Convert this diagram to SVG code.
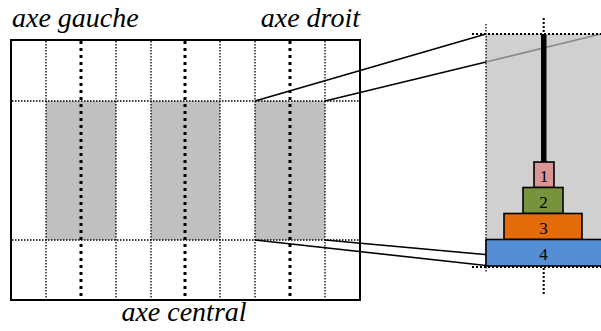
<svg xmlns="http://www.w3.org/2000/svg" width="601" height="331" viewBox="0 0 601 331">
<style>
.fine{stroke:#000;stroke-width:1.3;stroke-dasharray:1.5 1.5;fill:none}
.thick{stroke:#000;stroke-width:3;stroke-dasharray:3 4;fill:none}
.med{stroke:#000;stroke-width:2;stroke-dasharray:2 2;fill:none}
.conn{stroke:#000;stroke-width:1.6;fill:none}
.disk{stroke:#000;stroke-width:1.6}
.band{fill:#c0c0c0}
</style>
<rect width="601" height="331" fill="#fff"/>
<g id="left-panel">
<rect class="band" x="46" y="101" width="70" height="139"/>
<rect class="band" x="151" y="101" width="69" height="139"/>
<rect class="band" x="255" y="101" width="70" height="139"/>
<g class="fine">
<line x1="46" y1="41" x2="46" y2="299"/>
<line x1="116" y1="41" x2="116" y2="299"/>
<line x1="151" y1="41" x2="151" y2="299"/>
<line x1="220" y1="41" x2="220" y2="299"/>
<line x1="255" y1="41" x2="255" y2="299"/>
<line x1="325" y1="41" x2="325" y2="299"/>
<line x1="12" y1="101" x2="359" y2="101"/>
<line x1="12" y1="240" x2="359" y2="240"/>
</g>
<g class="thick">
<line x1="81" y1="41" x2="81" y2="300"/>
<line x1="185" y1="41" x2="185" y2="300"/>
<line x1="290" y1="41" x2="290" y2="300"/>
</g>
<rect x="11" y="40" width="349" height="260" fill="none" stroke="#000" stroke-width="2"/>
</g>
<g id="right-panel">
<rect x="486" y="34" width="115" height="232" fill="#d0d0d0"/>
<line x1="486" y1="62" x2="601" y2="34" stroke="#888" stroke-width="1.6"/>
<rect x="541" y="34" width="5.5" height="128" fill="#000"/>
<line class="med" x1="543.7" y1="18" x2="543.7" y2="34"/>
<line class="med" x1="543.7" y1="268" x2="543.7" y2="294"/>
<line class="med" x1="472" y1="34" x2="601" y2="34"/>
<line class="med" x1="472" y1="267" x2="601" y2="267"/>
<line class="fine" x1="486" y1="24" x2="486" y2="273"/>
</g>
<g id="connectors">
<line class="conn" x1="255" y1="101" x2="486" y2="34"/>
<line class="conn" x1="325" y1="101" x2="486" y2="62"/>
<line class="conn" x1="255" y1="240" x2="486" y2="265.5"/>
<line class="conn" x1="325" y1="240" x2="601" y2="265"/>
</g>
<g id="disk1"><rect class="disk" x="534" y="162" width="20" height="25.5" fill="#da9694"/><text x="544" y="182" font-size="17" text-anchor="middle" font-family="'Liberation Serif', Tinos, 'DejaVu Serif', serif">1</text></g>
<g id="disk2"><rect class="disk" x="523" y="187.5" width="40" height="26" fill="#77933c"/><text x="543.5" y="208" font-size="17" text-anchor="middle" font-family="'Liberation Serif', Tinos, 'DejaVu Serif', serif">2</text></g>
<g id="disk3"><rect class="disk" x="504" y="213.5" width="78" height="26" fill="#e46c0a"/><text x="543.5" y="234" font-size="17" text-anchor="middle" font-family="'Liberation Serif', Tinos, 'DejaVu Serif', serif">3</text></g>
<g id="disk4"><rect class="disk" x="486" y="239.5" width="118" height="26.5" fill="#558ed5"/><text x="543.5" y="260" font-size="17" text-anchor="middle" font-family="'Liberation Serif', Tinos, 'DejaVu Serif', serif">4</text></g>
<g id="labels">
<text x="12" y="27" font-size="28" font-style="italic" font-family="'Liberation Serif', Tinos, 'DejaVu Serif', serif">axe gauche</text>
<text x="360" y="27" font-size="28" font-style="italic" text-anchor="end" font-family="'Liberation Serif', Tinos, 'DejaVu Serif', serif">axe droit</text>
<text x="184" y="321" font-size="28" font-style="italic" text-anchor="middle" font-family="'Liberation Serif', Tinos, 'DejaVu Serif', serif">axe central</text>
</g>
</svg>
